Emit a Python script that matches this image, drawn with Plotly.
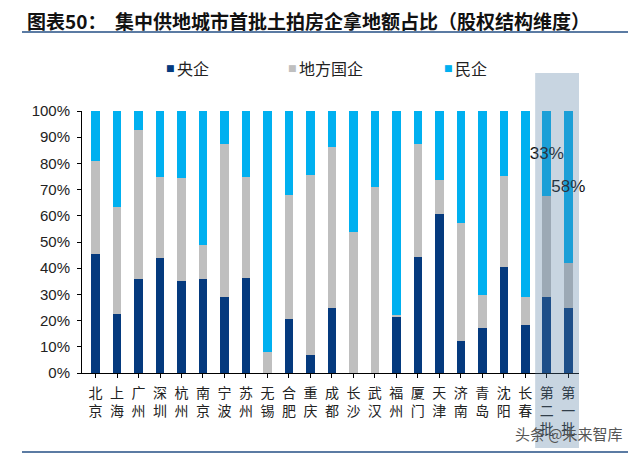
import plotly.graph_objects as go

# ---------------- data ----------------
categories = ["北京", "上海", "广州", "深圳", "杭州", "南京", "宁波", "苏州", "无锡", "合肥",
              "重庆", "成都", "长沙", "武汉", "福州", "厦门", "天津", "济南", "青岛", "沈阳",
              "长春", "第二批", "第一批"]
series_names = ["央企", "地方国企", "民企"]
central = [45.4, 22.5, 35.8, 44.0, 35.2, 35.8, 29.1, 36.2, 0.0, 20.5,
           6.9, 24.7, 0.0, 0.0, 21.5, 44.1, 60.6, 12.3, 17.3, 40.3,
           18.4, 29.0, 24.8]
local_soe = [35.5, 41.0, 56.8, 31.0, 39.3, 12.9, 58.3, 38.8, 7.9, 47.5,
             68.6, 61.5, 54.0, 70.9, 0.7, 43.4, 13.1, 45.0, 12.3, 35.0,
             10.6, 38.4, 17.3]
private = [19.1, 36.5, 7.4, 25.0, 25.5, 51.3, 12.6, 25.0, 92.1, 32.0,
           24.5, 13.8, 46.0, 29.1, 77.8, 12.5, 26.3, 42.7, 70.4, 24.7,
           71.0, 32.6, 57.9]
highlight = ["第二批", "第一批"]
y_ticks = [0, 10, 20, 30, 40, 50, 60, 70, 80, 90, 100]
title_text = "图表50：  集中供地城市首批土拍房企拿地额占比（股权结构维度）"
watermark = "头条 @未来智库"

# ---------------- style ----------------
colors = ["#053A7E", "#BFBFBF", "#00B0F0"]
OFF = 8                      # page body margin of the browser
W, H = 640 - OFF, 455 - OFF
L, T, B = 74, 103, 82
R = 61
PW, PH = W - L - R, H - T - B
CJK = "Noto Sans CJK SC"

def px_x(p):
    return (p - OFF - L) / PW

def px_y(p):
    return (H - B - (p - OFF)) / PH

x = list(range(len(categories)))
ticktext = ["<br>".join(list(c)) for c in categories]
labels = [f"{v:.0f}%" if c in highlight else "" for c, v in zip(categories, private)]

fig = go.Figure()
for name, vals, col in zip(series_names, [central, local_soe, private], colors):
    kw = {}
    if name == "民企":
        kw = dict(text=labels, textposition="inside", insidetextanchor="middle",
                  textangle=0, constraintext="none",
                  insidetextfont=dict(family="Arial", size=17, color="#111111"))
    fig.add_trace(go.Bar(x=x, y=[v / 100 for v in vals], name=name,
                         marker=dict(color=col, line=dict(width=0)),
                         cliponaxis=False, showlegend=False, hoverinfo="skip", **kw))

hl_idx = [categories.index(c) for c in highlight]

fig.update_layout(
    width=W, height=H, autosize=False,
    margin=dict(l=L, r=R, t=T, b=B, pad=0),
    barmode="stack", bargap=0.6,
    plot_bgcolor="white", paper_bgcolor="white",
    font=dict(family=CJK, color="#222222"),
    xaxis=dict(range=[-0.63, len(categories) - 0.5], tickmode="array", tickvals=x,
               ticktext=ticktext, ticks="outside", tickson="boundaries", ticklen=4,
               tickcolor="#000", showline=True, linecolor="#000", linewidth=1,
               showgrid=False, zeroline=False, ticklabelstandoff=3,
               tickfont=dict(family=CJK, size=14, color="#222222")),
    yaxis=dict(range=[0, 1], tickmode="array", tickvals=[v / 100 for v in y_ticks],
               ticktext=[f"{v}%" for v in y_ticks], ticks="outside", ticklen=4,
               tickcolor="#000", showline=True, linecolor="#000", linewidth=1,
               showgrid=False, zeroline=False, ticklabelstandoff=4,
               tickfont=dict(family="Arial", size=15, color="#222222")),
)

# highlighted region overlay
fig.add_shape(type="rect", xref="x", yref="paper",
              x0=min(hl_idx) - 0.54, x1=max(hl_idx) + 0.65,
              y0=px_y(448), y1=px_y(73),
              fillcolor="rgba(85,123,163,0.32)", line=dict(width=0), layer="above")

# title and rules
fig.add_annotation(text=f"<b>{title_text}</b>", xref="paper", yref="paper",
                   x=px_x(25), y=px_y(20), xanchor="left", yanchor="middle",
                   showarrow=False, font=dict(family=CJK, size=19, color="#111111"))
for yy in (32, 452):
    fig.add_shape(type="line", xref="paper", yref="paper",
                  x0=px_x(22), x1=px_x(628), y0=px_y(yy), y1=px_y(yy),
                  line=dict(color="#5B7BA3", width=2))

# legend (custom)
leg_sq_x = [170, 292, 448]
for name, col, sx in zip(series_names, colors, leg_sq_x):
    fig.add_annotation(text="■", xref="paper", yref="paper", x=px_x(sx), y=px_y(68),
                       xanchor="center", yanchor="middle", showarrow=False,
                       font=dict(family="DejaVu Sans", size=9, color=col))
    fig.add_annotation(text=name, xref="paper", yref="paper", x=px_x(sx + 5), y=px_y(68),
                       xanchor="left", yanchor="middle", showarrow=False,
                       font=dict(family=CJK, size=16, color="#222222"))

# watermark
fig.add_annotation(text=watermark, xref="paper", yref="paper", x=px_x(569), y=px_y(433),
                   xanchor="center", yanchor="middle", showarrow=False,
                   font=dict(family=CJK, size=15, color="#555555"))

fig.write_html("out.html")
